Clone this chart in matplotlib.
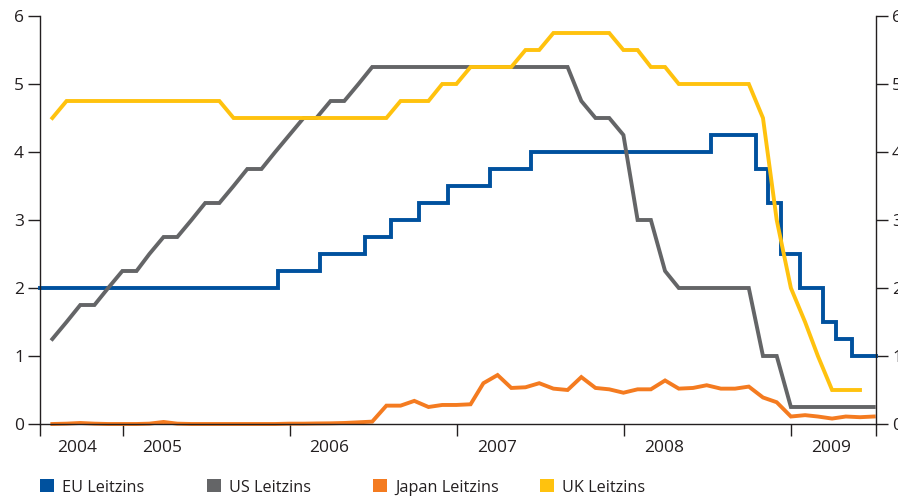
import matplotlib
matplotlib.use("Agg")
import matplotlib.pyplot as plt
from matplotlib.patches import Rectangle
import pandas as pd

plt.rcParams['font.family'] = ['Open Sans', 'DejaVu Sans']

# ---------------- data ----------------
months = pd.date_range('2004-07-31', '2009-06-30', freq='ME')  # month-end points

us_rate = [1.25, 1.5, 1.75, 1.75, 2.0, 2.25, 2.25, 2.5, 2.75, 2.75, 3.0, 3.25,
           3.25, 3.5, 3.75, 3.75, 4.0, 4.25, 4.5, 4.5, 4.75, 4.75, 5.0, 5.25,
           5.25, 5.25, 5.25, 5.25, 5.25, 5.25, 5.25, 5.25, 5.25, 5.25, 5.25, 5.25,
           5.25, 5.25, 4.75, 4.5, 4.5, 4.25, 3.0, 3.0, 2.25, 2.0, 2.0, 2.0,
           2.0, 2.0, 2.0, 1.0, 1.0, 0.25, 0.25, 0.25, 0.25, 0.25, 0.25, 0.25]

uk_rate = [4.5, 4.75, 4.75, 4.75, 4.75, 4.75, 4.75, 4.75, 4.75, 4.75, 4.75, 4.75,
           4.75, 4.5, 4.5, 4.5, 4.5, 4.5, 4.5, 4.5, 4.5, 4.5, 4.5, 4.5,
           4.5, 4.75, 4.75, 4.75, 5.0, 5.0, 5.25, 5.25, 5.25, 5.25, 5.5, 5.5,
           5.75, 5.75, 5.75, 5.75, 5.75, 5.5, 5.5, 5.25, 5.25, 5.0, 5.0, 5.0,
           5.0, 5.0, 5.0, 4.5, 3.0, 2.0, 1.5, 1.0, 0.5, 0.5, 0.5]

japan_rate = [0.0, 0.005, 0.015, 0.005, 0.0, 0.0, 0.0, 0.005, 0.03, 0.005, 0.0, 0.0,
              0.0, 0.0, 0.0, 0.0, 0.0, 0.005, 0.005, 0.008, 0.01, 0.015, 0.025, 0.035,
              0.27, 0.27, 0.34, 0.25, 0.28, 0.28, 0.29, 0.6, 0.72, 0.53, 0.54, 0.6,
              0.52, 0.5, 0.69, 0.53, 0.51, 0.46, 0.51, 0.51, 0.64, 0.52, 0.53, 0.57,
              0.52, 0.52, 0.55, 0.39, 0.32, 0.11, 0.13, 0.11, 0.08, 0.11, 0.10, 0.11]

eu_dates = ['2004-07-04', '2005-12-06', '2006-03-08', '2006-06-15', '2006-08-09',
            '2006-10-11', '2006-12-13', '2007-03-14', '2007-06-13', '2008-07-09',
            '2008-10-15', '2008-11-12', '2008-12-10', '2009-01-21', '2009-03-11',
            '2009-04-08', '2009-05-13', '2009-07-05']
eu_rate = [2.0, 2.25, 2.5, 2.75, 3.0, 3.25, 3.5, 3.75, 4.0, 4.25,
           3.75, 3.25, 2.5, 2.0, 1.5, 1.25, 1.0, 1.0]

year_labels = ['2004', '2005', '2006', '2007', '2008', '2009']
year_label_dates = ['2004-09-24', '2005-03-28', '2006-03-27', '2007-03-29',
                    '2008-03-29', '2009-03-29']
year_tick_dates = ['2005-01-01', '2006-01-01', '2007-01-01', '2008-01-01', '2009-01-01']
x_start, x_end = '2004-07-04', '2009-07-05'

series_names = ['EU Leitzins', 'US Leitzins', 'Japan Leitzins', 'UK Leitzins']
colors = ['#00519e', '#646567', '#f47b20', '#ffc20e']

# ---------------- figure ----------------
W, H = 898, 499
fig = plt.figure(figsize=(W / 100, H / 100), dpi=100)
ax = fig.add_axes([40 / W, 75 / H, 836 / W, 408 / H])

lw = 2.8
kw = dict(lw=lw, solid_capstyle='projecting', solid_joinstyle='miter', clip_on=False)
ax.plot(pd.to_datetime(eu_dates), eu_rate, color=colors[0], drawstyle='steps-post', **kw)
ax.plot(months, us_rate, color=colors[1], **kw)
ax.plot(months[:len(uk_rate)], uk_rate, color=colors[3], **kw)
ax.plot(months, japan_rate, color=colors[2], **kw)

ax.set_xlim(pd.Timestamp(x_start), pd.Timestamp(x_end))
ax.set_ylim(0, 6)

axis_color = '#231f20'
ax.spines['top'].set_visible(False)
for side in ['left', 'right', 'bottom']:
    ax.spines[side].set_color(axis_color)
    ax.spines[side].set_linewidth(1.0)

# y axis on both sides
ax.set_yticks(range(0, 7))
ax.tick_params(axis='y', which='major', direction='out', length=8.5, width=1.0,
               color=axis_color, labelsize=12.5, labelcolor=axis_color, pad=3,
               left=True, right=True, labelleft=True, labelright=True)

# x axis: year boundary ticks (no labels) + label positions (minor, no ticks)
major = [pd.Timestamp(x_start)] + [pd.Timestamp(d) for d in year_tick_dates] + [pd.Timestamp(x_end)]
ax.set_xticks(major)
ax.set_xticklabels([''] * len(major))
ax.set_xticks(pd.to_datetime(year_label_dates), minor=True)
ax.set_xticklabels(year_labels, minor=True)
ax.tick_params(axis='x', which='major', direction='out', length=8.5, width=1.0, color=axis_color)
ax.tick_params(axis='x', which='minor', length=0, labelsize=12.5, labelcolor=axis_color, pad=11.5)

# legend (manual, figure coordinates)
leg_x = [40, 207, 373, 540]
for x, name, c in zip(leg_x, series_names, colors):
    fig.patches.append(Rectangle((x / W, (499 - 492) / H), 13.5 / W, 13 / H,
                                 transform=fig.transFigure, facecolor=c, edgecolor='none'))
    fig.text((x + 22) / W, (499 - 492) / H, name, fontsize=11.7, color=axis_color,
             ha='left', va='baseline')

fig.savefig('out.png', dpi=100)
